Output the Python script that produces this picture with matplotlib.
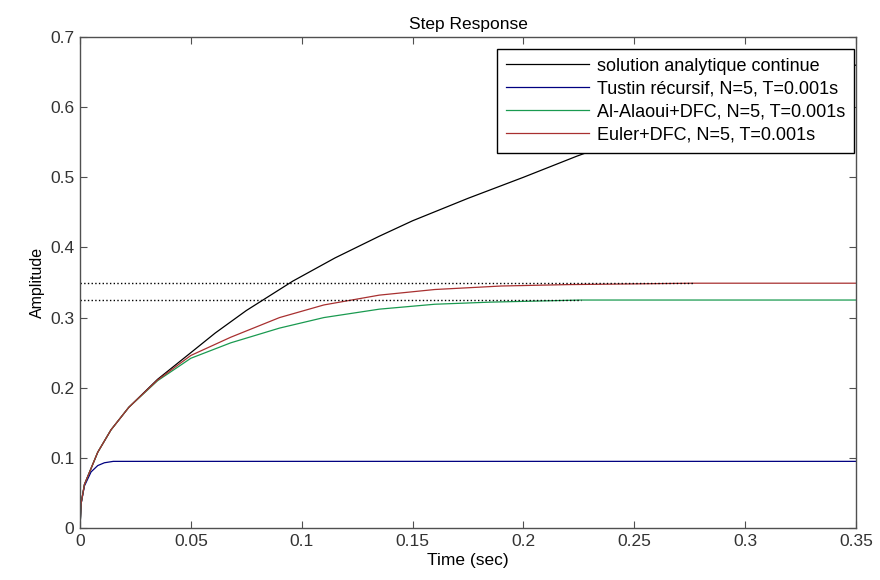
import numpy as np
import matplotlib
matplotlib.use('Agg')
import matplotlib.pyplot as plt

plt.rcParams['font.family'] = ['Liberation Sans', 'DejaVu Sans']

t_ana = [0, 0.0005, 0.002, 0.005, 0.008, 0.014, 0.022, 0.035, 0.05, 0.061, 0.075,
         0.096, 0.115, 0.135, 0.15, 0.175, 0.2, 0.224, 0.25, 0.3, 0.35]
y_ana = [0, 0.035, 0.062, 0.085, 0.108, 0.140, 0.172, 0.212, 0.250, 0.278, 0.310,
         0.352, 0.385, 0.416, 0.438, 0.470, 0.500, 0.530, 0.560, 0.612, 0.660]

t_tustin = [0, 0.0005, 0.002, 0.005, 0.008, 0.011, 0.015, 0.35]
y_tustin = [0, 0.035, 0.060, 0.080, 0.089, 0.093, 0.095, 0.095]

t_alaoui = [0, 0.0005, 0.002, 0.005, 0.008, 0.014, 0.022, 0.035, 0.05, 0.068, 0.09,
            0.11, 0.135, 0.16, 0.185, 0.226, 0.35]
y_alaoui = [0, 0.035, 0.062, 0.085, 0.108, 0.140, 0.172, 0.210, 0.242, 0.264, 0.285,
            0.300, 0.312, 0.319, 0.322, 0.325, 0.325]

t_euler = [0, 0.0005, 0.002, 0.005, 0.008, 0.014, 0.022, 0.035, 0.05, 0.068, 0.09,
           0.11, 0.135, 0.16, 0.19, 0.22, 0.277, 0.35]
y_euler = [0, 0.035, 0.062, 0.085, 0.108, 0.140, 0.172, 0.211, 0.246, 0.272, 0.300,
           0.318, 0.332, 0.340, 0.345, 0.347, 0.349, 0.349]

# steady-state markers (dotted), value and settling time
settle_values = [0.349, 0.325]
settle_times = [0.277, 0.226]

labels = ['solution analytique continue',
          'Tustin récursif, N=5, T=0.001s',
          'Al-Alaoui+DFC, N=5, T=0.001s',
          'Euler+DFC, N=5, T=0.001s']
colors = ['black', '#000080', '#1a9a50', '#a83030']

fig = plt.figure(figsize=(8.8, 5.8), dpi=100)
ax = fig.add_axes([80/880, 52/580, 776/880, 491/580])

ax.plot(t_ana, y_ana, color=colors[0], lw=0.9, label=labels[0])
ax.plot(t_tustin, y_tustin, color=colors[1], lw=0.9, label=labels[1])
ax.plot(t_alaoui, y_alaoui, color=colors[2], lw=0.9, label=labels[2])
ax.plot(t_euler, y_euler, color=colors[3], lw=0.9, label=labels[3])

for v, ts in zip(settle_values, settle_times):
    ax.plot([0, ts], [v, v], color='black', ls=':', lw=1.0)

ax.set_xlim(0, 0.35)
ax.set_ylim(0, 0.7)
ax.set_xticks(np.arange(0, 0.351, 0.05))
ax.set_yticks(np.arange(0, 0.71, 0.1))
ax.set_xticklabels(['0', '0.05', '0.1', '0.15', '0.2', '0.25', '0.3', '0.35'])
ax.set_yticklabels(['0', '0.1', '0.2', '0.3', '0.4', '0.5', '0.6', '0.7'])

axis_col = '#505050'
for s in ax.spines.values():
    s.set_color(axis_col)
    s.set_linewidth(1.0)
ax.tick_params(direction='in', top=True, right=True, length=5, width=0.8,
               colors=axis_col, labelsize=12.5, labelcolor='#333333', pad=4)

ax.set_title('Step Response', fontsize=12.5, pad=6)
ax.set_xlabel('Time (sec)', fontsize=12.5, labelpad=3)
ax.set_ylabel('Amplitude', fontsize=11.5, labelpad=4)

leg = ax.legend(loc='upper right', bbox_to_anchor=(1.0, 0.98), fontsize=13,
                fancybox=False, framealpha=1, edgecolor='black',
                handlelength=4.6, handletextpad=0.45, labelspacing=0.33,
                borderpad=0.5, borderaxespad=0.1)
leg.get_frame().set_linewidth(1.0)

fig.savefig('out.png', dpi=100)
